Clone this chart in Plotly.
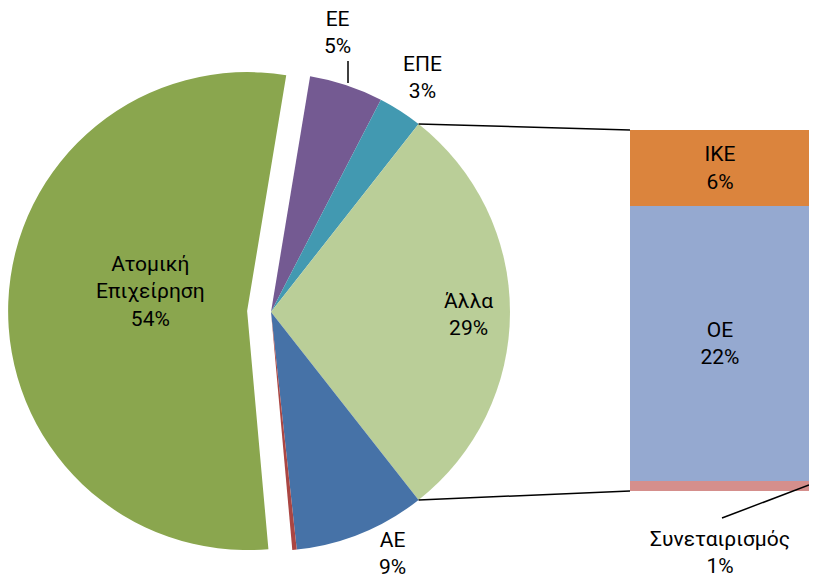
import math
import plotly.graph_objects as go

# ---------------- data ----------------
pie_labels = ["ΕΕ", "ΕΠΕ", "Άλλα", "ΑΕ", "", "Ατομική<br>Επιχείρηση"]
pie_main_values = [5.0, 3.0, None, 8.9, 0.3, 54.2]   # None -> filled by sum of bar
bar_labels = ["Συνεταιρισμός", "ΟΕ", "ΙΚΕ"]          # bottom to top
bar_values = [0.8, 22.0, 6.1]

pie_colors = ["#745A92", "#4299B1", "#BACE98", "#4672A7", "#AA4643", "#8AA64E"]
bar_colors = ["#D58F8C", "#95A9D0", "#DB843D"]

other_idx = 2
pie_values = [sum(bar_values) if v is None else v for v in pie_main_values]
total = sum(pie_values)
pcts = [round(v / total * 100) for v in pie_values]
bar_pcts = [round(v) for v in bar_values]

# page has an 8px body margin: figure is drawn at (8, 8)
OFF = 8
W, H = 817 - OFF, 585 - OFF
FONT = "Roboto, 'Noto Sans', sans-serif"
FS = 21

def X(px):
    return (px - OFF) / W

def Y(py):
    return 1 - (py - OFF) / H

# pie geometry (screen pixels)
cx, cy, R = 271, 312, 239
pull_main = 0.1
half = R * (1 + pull_main)
dom_x = [max(0, X(cx - half)), X(cx + half)]
dom_y = [Y(cy + half), Y(cy - half)]

# rotation so that "Άλλα" is centred at 3 o'clock
before = sum(pie_values[:other_idx])
rotation = 90 - 360 * (before + pie_values[other_idx] / 2) / total

fig = go.Figure()
fig.add_trace(go.Pie(
    values=pie_values, labels=[l or "-" for l in pie_labels], sort=False,
    direction="clockwise", rotation=rotation,
    pull=[0, 0, 0, 0, 0, pull_main],
    marker=dict(colors=pie_colors, line=dict(width=0)),
    textinfo="none",
    domain=dict(x=dom_x, y=dom_y), showlegend=False, hoverinfo="label+percent",
))

# bar of "other"
bx0, bx1, by_top, by_bot = 630, 810, 130, 491
for lab, val, p, col in zip(bar_labels, bar_values, bar_pcts, bar_colors):
    txt = f"{lab}<br>{p}%" if lab != bar_labels[0] else ""
    fig.add_trace(go.Bar(
        x=[0], y=[val], marker=dict(color=col, line=dict(width=0)),
        text=[txt], textposition="inside", insidetextanchor="middle",
        textfont=dict(family=FONT, size=FS, color="#000000"),
        xaxis="x2", yaxis="y2", showlegend=False, width=1, name=lab,
    ))

fig.update_layout(
    width=W, height=H, margin=dict(l=0, r=0, t=0, b=0),
    paper_bgcolor="white", plot_bgcolor="white", barmode="stack",
    bargap=0,
    xaxis2=dict(domain=[X(bx0), X(bx1)], range=[-0.5, 0.5], visible=False, fixedrange=True),
    yaxis2=dict(domain=[Y(by_bot), Y(by_top)], range=[0, sum(bar_values)],
                visible=False, fixedrange=True, anchor="x2"),
    font=dict(family=FONT, size=FS, color="#000000"),
    uniformtext=dict(minsize=FS, mode="show"),
)

# connector lines from "Άλλα" slice edges to the bar
a_start = rotation + 360 * before / total
a_end = a_start + 360 * pie_values[other_idx] / total
def pt(a):
    r = math.radians(a)
    return cx + R * math.sin(r), cy - R * math.cos(r)
ps, pe = pt(a_start), pt(a_end)
for (px, py), (qx, qy) in ((ps, (bx0, by_top)), (pe, (bx0, by_bot))):
    fig.add_shape(type="line", xref="paper", yref="paper",
                  x0=X(px), y0=Y(py), x1=X(qx), y1=Y(qy),
                  line=dict(color="black", width=1.5))

# labels
def ann(text, x, y):
    fig.add_annotation(text=text, x=X(x), y=Y(y), xref="paper", yref="paper",
                       showarrow=False, font=dict(family=FONT, size=FS, color="black"),
                       xanchor="center", yanchor="middle")

ann(f"{pie_labels[5]}<br>{pcts[5]}%", 150, 291)
ann(f"{pie_labels[2]}<br>{pcts[2]}%", 468, 314)
ann(f"{pie_labels[0]}<br>{pcts[0]}%", 337, 33)
ann(f"{pie_labels[1]}<br>{pcts[1]}%", 423, 77)
ann(f"{pie_labels[3]}<br>{pcts[3]}%", 392, 553)
ann(f"{bar_labels[0]}<br>{bar_pcts[0]}%", 720, 552)

# leader lines
fig.add_shape(type="line", xref="paper", yref="paper",
              x0=X(348), y0=Y(83), x1=X(348), y1=Y(61),
              line=dict(color="black", width=1.5))
fig.add_shape(type="line", xref="paper", yref="paper",
              x0=X(809), y0=Y(485), x1=X(722), y1=Y(518),
              line=dict(color="black", width=1.5))

fig.write_html("out.html")
